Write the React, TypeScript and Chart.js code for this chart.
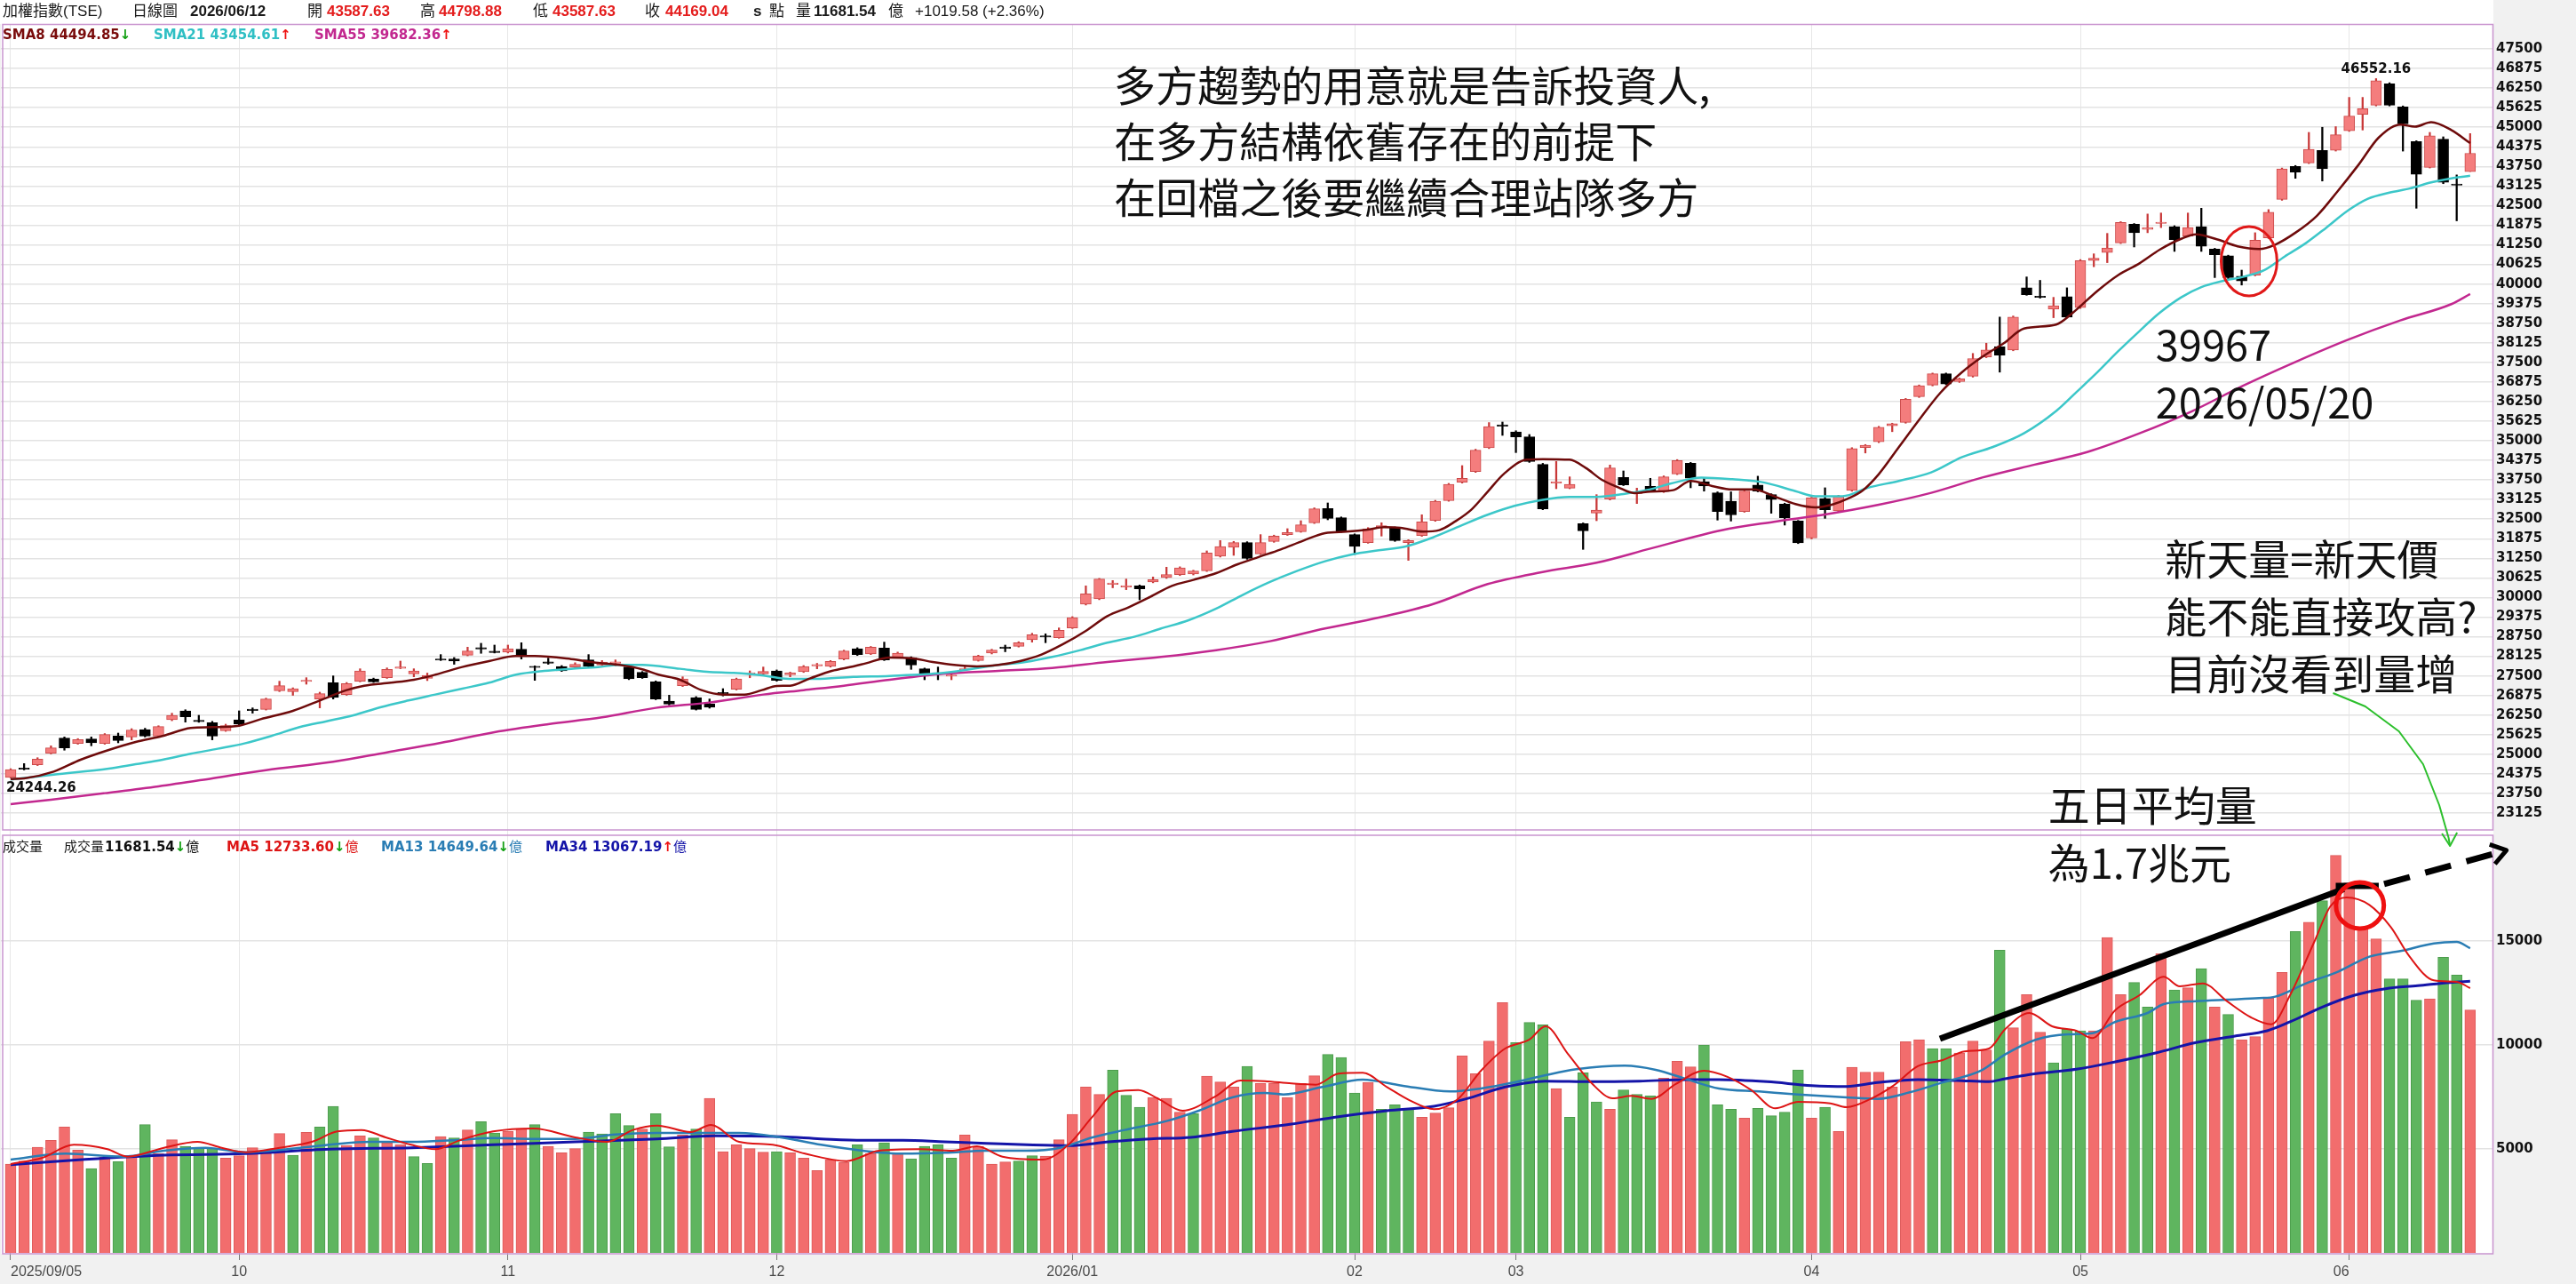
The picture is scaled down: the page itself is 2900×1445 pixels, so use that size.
import React, { useEffect, useRef } from 'react';
import { Chart, registerables } from 'chart.js';

Chart.register(...registerables);

// ---------------- data ----------------
const monthIdx = [0, 17, 37, 57, 79, 100, 112, 134, 154, 174];
const monthLabels = ['2025/09/05', '10', '11', '12', '2026/01', '02', '03', '04', '05', '06'];

const priceTicks = [23125, 23750, 24375, 25000, 25625, 26250, 26875, 27500, 28125, 28750, 29375, 30000, 30625, 31250, 31875, 32500, 33125, 33750, 34375, 35000, 35625, 36250, 36875, 37500, 38125, 38750, 39375, 40000, 40625, 41250, 41875, 42500, 43125, 43750, 44375, 45000, 45625, 46250, 46875, 47500];
const volTicks = [5000, 10000, 15000];

const opens = [
  24260, 24560, 24665, 25034, 25516, 25346, 25487, 25346, 25582, 25554,
  25790, 25582, 26101, 26385, 26060, 26007, 25752, 26101, 26420, 26432,
  27027, 26999, 27320, 26763, 27282, 26904, 27330, 27405, 27443, 27740,
  27566, 27424, 28020, 28038, 28161, 28380, 28265, 28256, 28350, 27790,
  27925, 27802, 27783, 28010, 27849, 27905, 27783, 27613, 27310, 26697,
  27188, 26810, 26602, 26950, 27074, 27555, 27566, 27660, 27537, 27632,
  27820, 27802, 28038, 28369, 28199, 28388, 28105, 28086, 27726, 27575,
  27490, 27689, 27991, 28227, 28398, 28445, 28652, 28757, 28719, 29031,
  29786, 29956, 30420, 30334, 30373, 30495, 30637, 30731, 30750, 30854,
  31317, 31600, 31752, 31392, 31789, 32007, 32101, 32384, 32838, 32545,
  32007, 31752, 32224, 32224, 31752, 31978, 32460, 33093, 33679, 34019,
  34775, 35484, 35285, 35125, 34246, 33650, 33490, 32356, 32696, 33140,
  33830, 33320, 33547, 33377, 33943, 34283, 33697, 33339, 33068, 32742,
  33589, 33285, 32981, 32438, 31897, 33155, 32764, 33415, 34782, 34966,
  35476, 35585, 36409, 36777, 37135, 36886, 37059, 37677, 38003, 37894,
  39879, 39590, 39196, 39597, 39250, 40747, 41007, 41311, 41907, 41745,
  41930, 41831, 41528, 41831, 41116, 40899, 40248, 40280, 41474, 42699,
  43751, 43860, 44261, 44261, 44890, 45411, 45704, 46387, 45649, 44543,
  43719, 44619, 43177, 43587.63,
];
const highs = [
  24540, 24703, 24890, 25270, 25553, 25500, 25553, 25660, 25676, 25817,
  25830, 25910, 26310, 26420, 26243, 26050, 25960, 26385, 26480, 26790,
  27330, 27120, 27443, 26980, 27500, 27290, 27727, 27430, 27755, 27972,
  27727, 27590, 28180, 28086, 28416, 28540, 28483, 28483, 28558, 27820,
  28067, 27830, 27920, 28180, 27990, 28010, 27820, 27640, 27340, 26886,
  27471, 26840, 26763, 27093, 27430, 27660, 27783, 27690, 27620, 27830,
  27900, 27990, 28320, 28400, 28440, 28577, 28260, 28110, 27750, 27783,
  27594, 27802, 28160, 28350, 28482, 28590, 28860, 28842, 29031, 29390,
  30372, 30610, 30542, 30589, 30400, 30655, 30967, 30980, 30870, 31487,
  31817, 31790, 31780, 32007, 31990, 32196, 32450, 32860, 33017, 32570,
  32030, 32230, 32385, 32250, 31845, 32640, 33100, 33640, 34208, 34730,
  35580, 35597, 35320, 35200, 34280, 34340, 33849, 32380, 33282, 34227,
  34038, 33490, 33802, 33880, 34400, 34310, 33827, 33370, 33372, 33420,
  33870, 33310, 33010, 32460, 33200, 33500, 33260, 34780, 34880, 35460,
  35560, 36350, 36780, 37160, 37160, 37000, 37786, 38111, 38946, 38980,
  40226, 40117, 39575, 39879, 40780, 40963, 41615, 41990, 41930, 42233,
  42265, 41860, 42265, 42417, 41140, 40920, 40443, 41636, 42374, 43700,
  43780, 44836, 44999, 45020, 45953, 45953, 46552.16, 46420, 45680, 44570,
  44836, 44695, 43480, 44798.88,
];
const lows = [
  24244.26, 24500, 24640, 25010, 25130, 25320, 25270, 25320, 25365, 25460,
  25550, 25560, 26070, 26025, 26020, 25460, 25730, 25940, 26310, 26410,
  26999, 26880, 27235, 26480, 26763, 26880, 27310, 27290, 27420, 27730,
  27470, 27350, 27990, 27870, 28140, 28220, 28230, 28230, 28038, 27358,
  27870, 27640, 27760, 27780, 27830, 27820, 27380, 27420, 26740, 26570,
  27160, 26410, 26470, 26860, 27050, 27440, 27540, 27330, 27471, 27610,
  27727, 27780, 28010, 28150, 28180, 27990, 28080, 27708, 27377, 27377,
  27377, 27670, 27970, 28200, 28270, 28420, 28577, 28558, 28700, 29010,
  29760, 29930, 30310, 30250, 29928, 30470, 30610, 30700, 30720, 30830,
  31290, 31345, 31220, 31370, 31760, 31980, 32080, 32360, 32479, 32080,
  31374, 31730, 31960, 31790, 31185, 31950, 32430, 33070, 33650, 33990,
  34750, 35172, 34623, 34310, 32800, 33471, 33470, 31535, 32450, 33110,
  33570, 32998, 33370, 33350, 33920, 33500, 33393, 32470, 32439, 32720,
  33370, 32688, 32310, 31720, 31870, 32525, 32740, 33390, 34610, 34940,
  35290, 35560, 36380, 36750, 36790, 36860, 37030, 37650, 37189, 37870,
  39640, 39550, 38925, 38920, 39220, 40551, 40682, 41290, 41181, 41636,
  41799, 41040, 41500, 41040, 40205, 40172, 39967, 40260, 41450, 42670,
  43372, 43840, 43285, 44240, 44868, 44912, 45680, 45680, 44239, 42417,
  43700, 43200, 42016, 43587.63,
];
const closes = [
  24514, 24520, 24846, 25204, 25204, 25468, 25365, 25629, 25440, 25770,
  25582, 25884, 26243, 26196, 26040, 25582, 25912, 25960, 26395, 26763,
  27188, 27093, 27345, 26933, 26810, 27254, 27660, 27310, 27707, 27765,
  27660, 27519, 28000, 27972, 28293, 28360, 28245, 28369, 28133, 27765,
  27905, 27660, 27868, 27802, 27943, 27925, 27405, 27443, 26763, 26602,
  27405, 26432, 26498, 26925, 27405, 27575, 27641, 27358, 27594, 27802,
  27840, 27962, 28293, 28180, 28416, 28010, 28227, 27849, 27566, 27555,
  27510, 27726, 28133, 28322, 28378, 28558, 28813, 28737, 28955, 29361,
  30117, 30589, 30440, 30373, 30278, 30570, 30731, 30948, 30844, 31421,
  31629, 31752, 31251, 31752, 31959, 32073, 32318, 32828, 32526, 32101,
  31629, 32196, 32290, 31818, 31818, 32413, 33074, 33613, 33802, 34699,
  35455, 35464, 35125, 34340, 32829, 33670, 33613, 32129, 32791, 34132,
  33594, 33340, 33396, 33849, 34368, 33805, 33556, 32742, 32634, 33394,
  33394, 33122, 32547, 31744, 33177, 32797, 33231, 34749, 34857, 35433,
  35541, 36322, 36756, 37135, 36810, 36973, 37623, 37894, 37732, 38946,
  39662, 39570, 39304, 38946, 40747, 40823, 41148, 41961, 41636, 41799,
  41950, 41419, 41799, 41202, 40931, 40205, 40096, 41398, 42287, 43675,
  43567, 44294, 43675, 44760, 45356, 45595, 46484, 45704, 45107, 43502,
  44727, 43242, 43149.46, 44169.04,
];

const volumes = [
  4274, 4416, 5086, 5413, 6054, 4943, 4060, 4600, 4388, 4630,
  6168, 4773, 5442, 5128, 5057, 5029, 4559, 4673, 5057, 4773,
  5741, 4701, 5798, 6054, 7051, 5171, 5627, 5527, 5299, 5200,
  4630, 4303, 5599, 5527, 5912, 6311, 5769, 5840, 5983, 6168,
  5128, 4815, 5015, 5812, 5727, 6696, 6126, 5955, 6696, 5100,
  5670, 5955, 7436, 4872, 5200, 5015, 4844, 4872, 4815, 4559,
  3960, 4488, 4345, 5200, 4773, 5299, 4815, 4530, 5128, 5200,
  4559, 5670, 5128, 4274, 4374, 4416, 4673, 4658, 5442, 6667,
  7978, 7621, 8789, 7579, 7009, 7479, 7436, 6767, 6696, 8504,
  8220, 7978, 8975, 8148, 8148, 7479, 8148, 8519, 9545, 9402,
  7692, 8191, 6909, 7123, 6952, 6524, 6724, 6980, 9473, 8618,
  10185, 12037, 10114, 11083, 10969, 7906, 6524, 8661, 7265, 6909,
  7835, 7621, 7550, 8405, 9217, 8946, 10000, 7123, 6909, 6482,
  6952, 6596, 6767, 8804, 6482, 7009, 5840, 8932, 8690, 8690,
  7977, 10157, 10257, 9829, 9829, 9615, 10185, 9758, 14559, 10826,
  12422, 10613, 9146, 10755, 10684, 10684, 15171, 12422, 13006, 11824,
  14388, 12650, 12750, 13675, 11824, 11467, 10257, 10399, 12251, 13490,
  15456, 15900, 16941, 19117, 17800, 15600, 15100, 13177, 13177, 12151,
  12222, 14217, 13362, 11681.54,
];
// 1 = red (up) volume bar, 0 = green (down)
const volUp = [
  1, 1, 1, 1, 1, 1, 0, 1, 0, 1,
  0, 1, 1, 0, 0, 0, 1, 1, 1, 1,
  1, 0, 1, 0, 0, 1, 1, 0, 1, 1,
  0, 0, 1, 0, 1, 0, 0, 1, 1, 0,
  1, 1, 1, 0, 0, 0, 0, 1, 0, 0,
  1, 0, 1, 1, 1, 1, 1, 0, 1, 1,
  1, 1, 1, 0, 1, 0, 1, 0, 0, 0,
  0, 1, 1, 1, 1, 0, 0, 1, 1, 1,
  1, 1, 0, 0, 0, 1, 1, 1, 0, 1,
  1, 1, 0, 1, 1, 1, 1, 1, 0, 0,
  0, 1, 0, 0, 0, 1, 1, 1, 1, 1,
  1, 1, 0, 0, 0, 1, 0, 0, 0, 1,
  0, 0, 0, 1, 1, 1, 0, 0, 0, 1,
  0, 0, 0, 0, 1, 0, 1, 1, 1, 1,
  1, 1, 1, 0, 0, 1, 1, 1, 0, 1,
  1, 1, 0, 0, 0, 1, 1, 1, 0, 0,
  1, 0, 1, 0, 1, 0, 1, 1, 1, 1,
  0, 1, 0, 1, 1, 1, 1, 0, 0, 0,
  1, 0, 0, 1,
];

// moving-average lines: [candle index, value]
const sma8Pts = [
  [0, 24212], [1, 24231], [3.2, 24448], [5.2, 24826], [7.3, 25138], [9.3, 25393], [11.3, 25582], [13.4, 25837], [15, 25865], [17, 25912],
  [18.6, 26120], [21, 26385], [23, 26716], [25, 27046], [26.3, 27188], [28.3, 27282], [30, 27377], [31.6, 27538], [33.6, 27783], [35.6, 27972],
  [37.6, 28133], [39, 28133], [41.7, 28038], [43.7, 27915], [45.3, 27849], [47, 27708], [48.2, 27538], [49.8, 27377], [51.4, 27046], [53, 26905],
  [54.6, 26905], [55.9, 27046], [57, 27179], [58, 27188], [59.5, 27424], [61.1, 27660], [62.7, 27802], [63.6, 27897], [65.4, 28086], [67, 28067],
  [68.6, 27944], [70.2, 27850], [71.9, 27802], [73.5, 27850], [75.1, 27972], [76.7, 28180], [78.3, 28511], [80, 28936], [81.6, 29408], [83.2, 29692],
  [84.8, 30023], [86.4, 30372], [88, 30561], [89.7, 30778], [91.3, 31062], [92.9, 31298], [94.5, 31534], [96.2, 31817], [97.8, 32054], [99.4, 32101],
  [101, 32167], [102.2, 32243], [103.4, 32224], [105.1, 32101], [106.3, 32148], [107.5, 32432], [108.7, 32810], [109.9, 33377], [111.1, 33943], [112.8, 34397],
  [114, 34416], [116, 34397], [117.2, 34132], [118.4, 33754], [119.6, 33518], [120.8, 33329], [122, 33377], [123.7, 33424], [125, 33719], [126.6, 33556],
  [128.1, 33448], [129.7, 33448], [131.2, 33231], [132.8, 32981], [134.3, 32873], [135.5, 32960], [136.7, 33155], [137.8, 33415], [139, 33936], [140.5, 34803],
  [142.1, 35725], [143.6, 36539], [145.2, 37189], [146.7, 37677], [148.3, 38111], [149.8, 38577], [152.2, 38708], [153.3, 39033], [155.3, 39792], [156.8, 40281],
  [158.4, 40660], [159.9, 41094], [161.5, 41441], [162.6, 41582], [164.2, 41419], [165.7, 41202], [167.3, 41116], [168.5, 41257], [170, 41636], [171.6, 42178],
  [173.1, 42938], [174.7, 43805], [176.2, 44673], [177.8, 45085], [178.9, 45020], [180.1, 45161], [181.6, 44912], [183, 44495],
];
const sma21Pts = [
  [0, 24193], [3.2, 24354], [7.3, 24543], [9.3, 24684], [11.3, 24826], [13.4, 25015], [15.4, 25176], [17.4, 25346], [19.4, 25582], [21.5, 25865],
  [23.5, 26054], [25.5, 26243], [27.5, 26498], [29.6, 26716], [31.6, 26905], [33.6, 27093], [35.6, 27282], [37.6, 27538], [39.7, 27660], [41.7, 27727],
  [43.7, 27783], [45.3, 27849], [47, 27849], [49.8, 27727], [51.8, 27632], [53.8, 27594], [55.9, 27519], [57.9, 27405], [59.9, 27405], [62.7, 27471],
  [65.4, 27500], [69.4, 27594], [73.5, 27850], [75.5, 27944], [77.5, 28105], [79.6, 28322], [81.6, 28558], [83.6, 28747], [85.6, 29012], [87.6, 29267],
  [89.7, 29645], [91.7, 30089], [93.7, 30495], [95.7, 30844], [97.8, 31156], [99.8, 31373], [101.8, 31506], [103.8, 31629], [105.8, 31912], [107.9, 32290],
  [109.9, 32640], [111.9, 32923], [113.9, 33112], [116, 33207], [118, 33207], [120, 33301], [122, 33452], [123.5, 33632], [125.8, 33827], [128.1, 33773],
  [130.5, 33665], [132.8, 33394], [134.3, 33231], [136.3, 33231], [138.2, 33502], [140.5, 33719], [142.9, 33990], [145.2, 34478], [147.5, 34803], [149.8, 35237],
  [152.2, 35950], [153.7, 36550], [155.3, 37200], [156.8, 37850], [158.4, 38500], [159.9, 39080], [161.5, 39575], [163, 39901], [164.6, 40096], [166.1, 40226],
  [167.7, 40443], [169.2, 40877], [170.8, 41311], [172.3, 41799], [173.9, 42341], [175.4, 42721], [177, 42916], [178.5, 43046], [180.1, 43241], [181.6, 43372],
  [183, 43455],
];
const sma55Pts = [
  [0, 23409], [3, 23551], [7, 23759], [11, 23976], [15, 24231], [19, 24495], [24, 24760], [28, 25062], [32, 25365], [36, 25705],
  [40, 25960], [44, 26177], [48, 26480], [52, 26650], [56, 26905], [59, 27046], [62, 27188], [65.4, 27377], [69.4, 27566], [73.5, 27661],
  [77.5, 27755], [81.6, 27944], [85.6, 28105], [89.7, 28322], [93.7, 28606], [97.8, 29012], [101.8, 29361], [105.8, 29786], [109.9, 30429], [113.9, 30807],
  [118, 31109], [122, 31560], [127.3, 32146], [131.2, 32417], [135.1, 32656], [139, 32959], [142.9, 33339], [146.7, 33827], [150.6, 34239], [154.5, 34640],
  [158.4, 35237], [162.3, 35942], [166.1, 36755], [170, 37515], [173.9, 38222], [177.8, 38838], [181.6, 39359], [183, 39682],
];
const volMa5Pts = [
  [0, 4274], [2.3, 4559], [4.7, 5200], [7.2, 4986], [8.7, 4630], [11.4, 5057], [13.9, 5342], [15.7, 5057], [17.5, 4844], [20, 5057],
  [22.4, 5342], [24.3, 5841], [26.1, 5912], [27.9, 5556], [29.8, 5200], [31.6, 4986], [33.4, 5413], [35.9, 5841], [38.9, 5983], [42, 5556],
  [44.4, 5342], [46.3, 5912], [48.1, 6126], [50.6, 5812], [52.1, 6154], [54.2, 5342], [56.7, 5200], [59.1, 4773], [62.2, 4416], [64.6, 4915],
  [67.7, 4986], [70.1, 4915], [71.9, 5128], [73.8, 4630], [76.8, 4488], [78.7, 5200], [80.5, 6553], [82.3, 7764], [83.9, 7835], [85.4, 7408],
  [87.2, 6838], [89.7, 7550], [91.5, 8291], [93.3, 8262], [95.3, 8148], [97.1, 8091], [98.8, 8618], [100.6, 8661], [102.4, 7977], [104.1, 7336],
  [105.9, 6909], [107.7, 7408], [109.4, 8761], [111.2, 9829], [113, 10257], [114.2, 10898], [115.9, 9544], [117.7, 8120], [119.2, 7436], [120.6, 7550],
  [122.1, 7408], [123.9, 8120], [126, 8761], [127.7, 8476], [129.5, 7835], [131.3, 6952], [133, 7265], [135.4, 7194], [136.6, 7009], [138.4, 7408],
  [140.1, 8049], [141.9, 8975], [143.7, 9260], [145.4, 9687], [147.2, 9829], [148.4, 10755], [150.2, 11539], [151.9, 10898], [153.7, 10684], [154.9, 10328],
  [156.6, 11681], [158.4, 12393], [160.2, 13277], [161.4, 12821], [163.1, 12963], [164.9, 12108], [166.7, 11325], [168.2, 10997], [169.6, 12393], [171.4, 14958],
  [172.6, 16667], [173.8, 17094], [175.5, 16738], [177.1, 15670], [178.5, 14245], [180.3, 13106], [182, 13035], [183, 12734],
];
const volMa13Pts = [
  [0, 4488], [4.1, 4773], [8.4, 4630], [11.4, 4915], [14.5, 5057], [17.5, 4844], [20.6, 4986], [23.7, 5200], [26.7, 5342], [29.8, 5342],
  [32.8, 5413], [35.9, 5527], [38.9, 5485], [42, 5485], [45, 5698], [48.1, 5769], [51.2, 5769], [54.2, 5769], [57.3, 5556], [60.3, 5200],
  [63.4, 4915], [66.4, 4773], [69.5, 4815], [72.6, 4915], [75.6, 4915], [78.1, 5057], [80.5, 5556], [82.9, 5912], [86, 6339], [88.4, 6838],
  [90.9, 7479], [93.3, 7692], [94.7, 7621], [97.6, 7977], [100.6, 8334], [103.5, 8049], [107.1, 7764], [109.4, 7906], [111.8, 8191], [114.2, 8547],
  [116.5, 8832], [120.1, 9003], [122.4, 8804], [124.8, 8334], [127.1, 7906], [130.1, 7764], [133, 7621], [136.6, 7479], [138.9, 7408], [141.3, 7721],
  [143.7, 8191], [146.6, 8761], [148.4, 9544], [150.7, 10257], [153.1, 10513], [154.9, 10570], [156.6, 11111], [159, 11539], [160.2, 11966], [162.6, 12108],
  [164.9, 12180], [167.3, 12251], [168.5, 12322], [170.8, 12963], [173.2, 13533], [175.5, 14245], [177.9, 14530], [180.3, 14886], [182, 14958], [183, 14650],
];
const volMa34Pts = [
  [0, 4245], [5.3, 4488], [11.4, 4701], [17.5, 4773], [23.7, 4986], [29.8, 5057], [35.9, 5200], [42, 5342], [48.1, 5485], [52.4, 5627],
  [57.3, 5584], [60.3, 5485], [63.4, 5413], [66.4, 5413], [69.5, 5342], [72.6, 5271], [75.6, 5200], [78.7, 5157], [81.7, 5342], [84.8, 5485],
  [87.8, 5556], [90.9, 5841], [95.3, 6197], [98.8, 6553], [102.4, 6838], [105.9, 7051], [108.3, 7408], [111.2, 7977], [114.2, 8262], [117.7, 8234],
  [121.2, 8262], [124.8, 8334], [127.1, 8334], [130.7, 8234], [134, 8049], [136.6, 8006], [138.9, 8191], [141.9, 8334], [144.8, 8291], [147.2, 8234],
  [148.4, 8376], [150.7, 8618], [153.7, 8832], [156.6, 9188], [159.6, 9615], [162.6, 10114], [165.5, 10428], [167.9, 10684], [169.6, 11111], [172, 11824],
  [174.4, 12393], [176.7, 12707], [179.1, 12849], [181.5, 13006], [183, 13067],
];

// annotations, anchored in data space (candle index, price / volume value)
const noteTexts = [
  { ix: 82.1, pv: 46340, text: '多方趨勢的用意就是告訴投資人,' },
  { ix: 82.1, pv: 44554, text: '在多方結構依舊存在的前提下' },
  { ix: 82.1, pv: 42768, text: '在回檔之後要繼續合理站隊多方' },
  { ix: 159.6, pv: 38063, text: '39967' },
  { ix: 159.6, pv: 36220, text: '2026/05/20' },
  { ix: 160.3, pv: 31232, text: '新天量=新天價' },
  { ix: 160.3, pv: 29389, text: '能不能直接攻高?' },
  { ix: 160.3, pv: 27575, text: '目前沒看到量增' },
  { ix: 151.6, pv: 23380, text: '五日平均量' },
  { ix: 151.6, pv: 21538, text: '為1.7兆元' },
];
const priceCircle = { ix: 166.55, pv: 40727, rIx: 2.08, rPv: 1105 };
const volCircle = { ix: 174.8, vv: 16709, rIx: 1.78, rVv: 1111 };
const trendSolid = [[143.55, 10300], [173.6, 17500]];
const trendFlat = [[173.0, 17650], [176.2, 17650]];
const trendDash = [[176.6, 17735], [185.7, 19359]];
const greenArrow = [[172.8, 26952], [175.2, 26526], [177.7, 25733], [179.5, 24684], [180.7, 23380], [181.4, 22331], [181.5, 22076]];

// ---------------- styling ----------------
const W = 2900;
const H = 1445;
const RED_BODY = '#f47d7d';
const RED_EDGE = '#cc4a4a';
const RED_WICK = '#c83838';
const VOL_RED = '#f26d6d';
const VOL_RED_EDGE = '#de5a5a';
const VOL_GREEN = '#5fb55f';
const VOL_GREEN_EDGE = '#4c9c4c';
const PANEL_BORDER = '#c995cf';
const CJK = "'Noto Sans CJK TC', 'Noto Sans CJK SC', sans-serif";
const AXIS_FONT = "'DejaVu Sans', sans-serif";

const toXY = (p: number[][]) => p.map(([x, y]) => ({ x, y }));

const drawPlugin = {
  id: 'twPanels',
  beforeDraw(chart: any) {
    const { ctx, chartArea } = chart;
    const py = chart.scales.y;
    const vy = chart.scales.yv;
    ctx.save();
    ctx.fillStyle = '#ffffff';
    ctx.fillRect(0, 0, chartArea.right, py.top);
    ctx.fillRect(chartArea.left, py.top, chartArea.right - chartArea.left, vy.bottom - py.top + 1);
    ctx.restore();
  },
  afterDraw(chart: any) {
    const { ctx, chartArea: ca } = chart;
    const xs = chart.scales.x;
    const py = chart.scales.y;
    const vy = chart.scales.yv;
    const X = (v: number) => xs.getPixelForValue(v);
    const PY = (v: number) => py.getPixelForValue(v);
    const VY = (v: number) => vy.getPixelForValue(v);
    ctx.save();

    // panel borders
    ctx.strokeStyle = PANEL_BORDER;
    ctx.lineWidth = 1.5;
    ctx.strokeRect(ca.left + 2, py.top + 0.5, ca.right - ca.left - 2.5, py.bottom - py.top - 4.5);
    ctx.strokeRect(ca.left + 2, vy.top + 2, ca.right - ca.left - 2.5, vy.bottom - vy.top - 1);

    // low / high labels
    let lo = 0;
    let hi = 0;
    lows.forEach((v, i) => { if (v < lows[lo]) lo = i; });
    highs.forEach((v, i) => { if (v > highs[hi]) hi = i; });
    ctx.fillStyle = '#111';
    ctx.font = `bold 15px ${AXIS_FONT}`;
    ctx.textAlign = 'left';
    ctx.textBaseline = 'top';
    ctx.fillText(lows[lo].toFixed(2), X(lo) - 5, PY(lows[lo]) + 4);
    ctx.textAlign = 'center';
    ctx.textBaseline = 'bottom';
    ctx.fillText(highs[hi].toFixed(2), X(hi), PY(highs[hi]) - 3);

    // large notes
    ctx.font = `47px ${CJK}`;
    ctx.textAlign = 'left';
    ctx.textBaseline = 'middle';
    ctx.fillStyle = '#111';
    noteTexts.forEach((n) => ctx.fillText(n.text, X(n.ix), PY(n.pv)));

    // red circle on price panel
    ctx.strokeStyle = '#e01818';
    ctx.lineWidth = 3;
    ctx.beginPath();
    ctx.ellipse(X(priceCircle.ix), PY(priceCircle.pv),
      Math.abs(X(priceCircle.ix + priceCircle.rIx) - X(priceCircle.ix)),
      Math.abs(PY(priceCircle.pv + priceCircle.rPv) - PY(priceCircle.pv)), 0, 0, Math.PI * 2);
    ctx.stroke();

    // green arrow
    ctx.strokeStyle = '#2cbf2c';
    ctx.lineWidth = 2;
    ctx.lineJoin = 'round';
    ctx.beginPath();
    greenArrow.forEach(([a, b], i) => {
      if (i === 0) ctx.moveTo(X(a), PY(b)); else ctx.lineTo(X(a), PY(b));
    });
    ctx.stroke();
    const tip = greenArrow[greenArrow.length - 1];
    const tx = X(tip[0]);
    const ty = PY(tip[1]);
    ctx.beginPath();
    ctx.moveTo(tx - 9, ty - 14);
    ctx.lineTo(tx, ty);
    ctx.lineTo(tx + 8, ty - 15);
    ctx.stroke();

    // black trend line on volume panel
    ctx.strokeStyle = '#000';
    ctx.lineWidth = 7;
    ctx.lineCap = 'butt';
    ctx.beginPath();
    ctx.moveTo(X(trendSolid[0][0]), VY(trendSolid[0][1]));
    ctx.lineTo(X(trendSolid[1][0]), VY(trendSolid[1][1]));
    ctx.stroke();
    ctx.beginPath();
    ctx.moveTo(X(trendFlat[0][0]), VY(trendFlat[0][1]));
    ctx.lineTo(X(trendFlat[1][0]), VY(trendFlat[1][1]));
    ctx.stroke();
    const d0x = X(trendDash[0][0]);
    const d0y = VY(trendDash[0][1]);
    const d1x = X(trendDash[1][0]);
    const d1y = VY(trendDash[1][1]);
    ctx.setLineDash([30, 18]);
    ctx.beginPath();
    ctx.moveTo(d0x, d0y);
    ctx.lineTo(d1x, d1y);
    ctx.stroke();
    ctx.setLineDash([]);
    const ang = Math.atan2(d1y - d0y, d1x - d0x);
    ctx.lineWidth = 5;
    ctx.beginPath();
    ctx.moveTo(d1x - 20 * Math.cos(ang - 0.6), d1y - 20 * Math.sin(ang - 0.6));
    ctx.lineTo(d1x, d1y);
    ctx.lineTo(d1x - 20 * Math.cos(ang + 0.6), d1y - 20 * Math.sin(ang + 0.6));
    ctx.stroke();

    // red circle on volume panel
    ctx.strokeStyle = '#ee1010';
    ctx.lineWidth = 5;
    ctx.beginPath();
    ctx.ellipse(X(volCircle.ix), VY(volCircle.vv),
      Math.abs(X(volCircle.ix + volCircle.rIx) - X(volCircle.ix)),
      Math.abs(VY(volCircle.vv + volCircle.rVv) - VY(volCircle.vv)), 0, 0, Math.PI * 2);
    ctx.stroke();

    ctx.restore();
  },
};

type Seg = { x: number; t: string; b?: boolean; c?: string };

const RED_TXT = '#e41c1c';
const headerSegs: Seg[] = [
  { x: 3, t: '加權指數(TSE)' },
  { x: 149, t: '日線圖' },
  { x: 214, t: '2026/06/12', b: true },
  { x: 346, t: '開' },
  { x: 368, t: '43587.63', b: true, c: RED_TXT },
  { x: 473, t: '高' },
  { x: 494, t: '44798.88', b: true, c: RED_TXT },
  { x: 600, t: '低' },
  { x: 622, t: '43587.63', b: true, c: RED_TXT },
  { x: 726, t: '收' },
  { x: 749, t: '44169.04', b: true, c: RED_TXT },
  { x: 848, t: 's', b: true },
  { x: 866, t: '點' },
  { x: 896, t: '量' },
  { x: 916, t: '11681.54', b: true },
  { x: 1000, t: '億' },
  { x: 1030, t: '+1019.58 (+2.36%)' },
];

const UP = '↑';
const DOWN = '↓';
const UPC = '#ee1111';
const DOWNC = '#13a013';

type Leg = { x: number; label: string; arrow: string; ac: string; c: string; unit?: string };
const priceLegend: Leg[] = [
  { x: 3, label: 'SMA8 44494.85', arrow: DOWN, ac: DOWNC, c: '#7a0c0c' },
  { x: 173, label: 'SMA21 43454.61', arrow: UP, ac: UPC, c: '#2fbfc4' },
  { x: 354, label: 'SMA55 39682.36', arrow: UP, ac: UPC, c: '#c2288f' },
];
const volLegend: Leg[] = [
  { x: 255, label: 'MA5 12733.60', arrow: DOWN, ac: DOWNC, c: '#dd1515', unit: '億' },
  { x: 429, label: 'MA13 14649.64', arrow: DOWN, ac: DOWNC, c: '#2a7db4', unit: '億' },
  { x: 614, label: 'MA34 13067.19', arrow: UP, ac: UPC, c: '#1414a8', unit: '億' },
];

const abs = (x: number, y: number): React.CSSProperties => ({ position: 'absolute', left: x, top: y, whiteSpace: 'nowrap' });

function LegendRow({ items, y }: { items: Leg[]; y: number }) {
  return (
    <>
      {items.map((it, i) => (
        <span key={i} style={{ ...abs(it.x, y), font: `bold 15px ${AXIS_FONT}`, color: it.c, lineHeight: '18px' }}>
          {it.label}
          <span style={{ color: it.ac }}>{it.arrow}</span>
          {it.unit ? <span style={{ fontWeight: 400, fontFamily: CJK, fontSize: 15 }}>{it.unit}</span> : null}
        </span>
      ))}
    </>
  );
}

export default function App() {
  const ref = useRef<HTMLCanvasElement | null>(null);

  useEffect(() => {
    if (!ref.current) return;
    const up = closes.map((c, i) => c >= opens[i]);
    const candleBodies = opens.map((o, i) => ({ x: i, y: [o, closes[i]] }));
    const candleWicks = lows.map((l, i) => ({ x: i, y: [l, highs[i]] }));
    const volData = volumes.map((v, i) => ({ x: i, y: v }));

    const chart = new Chart(ref.current, {
      type: 'line',
      data: {
        datasets: [
          {
            type: 'bar', label: 'vol', data: volData as any, yAxisID: 'yv', xAxisID: 'x',
            backgroundColor: volUp.map((u) => (u ? VOL_RED : VOL_GREEN)),
            borderColor: volUp.map((u) => (u ? VOL_RED_EDGE : VOL_GREEN_EDGE)),
            borderWidth: 1, borderSkipped: 'bottom', barThickness: 12, grouped: false, order: 20,
          } as any,
          {
            type: 'line', label: 'MA34', data: toXY(volMa34Pts) as any, yAxisID: 'yv',
            borderColor: '#1414a8', borderWidth: 3, pointRadius: 0, cubicInterpolationMode: 'monotone', order: 12,
          } as any,
          {
            type: 'line', label: 'MA13', data: toXY(volMa13Pts) as any, yAxisID: 'yv',
            borderColor: '#2a7db4', borderWidth: 2.5, pointRadius: 0, cubicInterpolationMode: 'monotone', order: 11,
          } as any,
          {
            type: 'line', label: 'MA5', data: toXY(volMa5Pts) as any, yAxisID: 'yv',
            borderColor: '#dd1515', borderWidth: 2, pointRadius: 0, cubicInterpolationMode: 'monotone', order: 10,
          } as any,
          {
            type: 'bar', label: 'wick', data: candleWicks as any, yAxisID: 'y',
            backgroundColor: up.map((u) => (u ? RED_WICK : '#000')),
            borderWidth: 0, barThickness: 1.6, grouped: false, order: 5,
          } as any,
          {
            type: 'bar', label: 'body', data: candleBodies as any, yAxisID: 'y',
            backgroundColor: up.map((u) => (u ? RED_BODY : '#000')),
            borderColor: up.map((u) => (u ? RED_EDGE : '#000')),
            borderWidth: 1, borderSkipped: false, barThickness: 12, minBarLength: 1.5, grouped: false, order: 4,
          } as any,
          {
            type: 'line', label: 'SMA55', data: toXY(sma55Pts) as any, yAxisID: 'y',
            borderColor: '#c2288f', borderWidth: 2.5, pointRadius: 0, cubicInterpolationMode: 'monotone', order: 3,
          } as any,
          {
            type: 'line', label: 'SMA21', data: toXY(sma21Pts) as any, yAxisID: 'y',
            borderColor: '#3cc7c9', borderWidth: 2.5, pointRadius: 0, cubicInterpolationMode: 'monotone', order: 2,
          } as any,
          {
            type: 'line', label: 'SMA8', data: toXY(sma8Pts) as any, yAxisID: 'y',
            borderColor: '#6e0b0b', borderWidth: 2.5, pointRadius: 0, cubicInterpolationMode: 'monotone', order: 1,
          } as any,
        ],
      },
      options: {
        animation: false,
        responsive: false,
        devicePixelRatio: 1,
        events: [],
        layout: { padding: { top: 27, left: 1, right: 0, bottom: 0 } },
        plugins: { legend: { display: false }, tooltip: { enabled: false } },
        scales: {
          x: {
            type: 'linear', min: -0.727, max: 184.73, offset: false,
            afterBuildTicks: (s: any) => { s.ticks = monthIdx.map((v) => ({ value: v })); },
            afterFit: (s: any) => { s.height = 35; },
            ticks: {
              autoSkip: false, maxRotation: 0, minRotation: 0, align: 'inner', padding: 4,
              color: '#4a4a4a', font: { family: "'Liberation Sans', sans-serif", size: 16 },
              callback: (v: any) => { const k = monthIdx.indexOf(Number(v)); return k >= 0 ? monthLabels[k] : ''; },
            },
            grid: { color: '#e7e7e7', lineWidth: 1, drawTicks: true, tickLength: 8, tickColor: '#777', offset: false },
            border: { display: false },
          } as any,
          y: {
            type: 'linear', position: 'right', stack: 'panels', stackWeight: 911,
            min: 22473, max: 48294,
            afterBuildTicks: (s: any) => { s.ticks = priceTicks.map((v) => ({ value: v })); },
            afterFit: (s: any) => { s.width = 93; },
            ticks: { autoSkip: false, padding: 3, color: '#111', font: { family: AXIS_FONT, size: 15, weight: 'bold' }, callback: (v: any) => String(v) },
            grid: { color: '#e3e3e3', lineWidth: 1.5, drawTicks: false },
            border: { display: false },
          } as any,
          yv: {
            type: 'linear', position: 'right', stack: 'panels', stackWeight: 472,
            min: 0, max: 20170,
            afterBuildTicks: (s: any) => { s.ticks = volTicks.map((v) => ({ value: v })); },
            afterFit: (s: any) => { s.width = 93; },
            ticks: { autoSkip: false, padding: 3, color: '#111', font: { family: AXIS_FONT, size: 15, weight: 'bold' }, callback: (v: any) => String(v) },
            grid: { color: '#e3e3e3', lineWidth: 1.5, drawTicks: false },
            border: { display: false },
          } as any,
        },
      } as any,
      plugins: [drawPlugin as any],
    });
    return () => chart.destroy();
  }, []);

  return (
    <div style={{ position: 'fixed', left: 0, top: 0, width: W, height: H, background: '#f1f1f1', overflow: 'hidden' }}>
      <canvas ref={ref} width={W} height={H} style={{ position: 'absolute', left: 0, top: 0, width: W, height: H }} />
      {headerSegs.map((s, i) => (
        <span key={i} style={{
          ...abs(s.x, 3), fontSize: 17, lineHeight: '20px', fontWeight: s.b ? 700 : 400, color: s.c || '#1a1a1a',
          fontFamily: s.b ? "'Liberation Sans', sans-serif" : `'Liberation Sans', ${CJK}`,
        }}>{s.t}</span>
      ))}
      <LegendRow items={priceLegend} y={30} />
      <span style={{ ...abs(3, 943), fontSize: 15, lineHeight: '18px', fontFamily: CJK, color: '#1a1a1a' }}>成交量</span>
      <span style={{ ...abs(72, 943), fontSize: 15, lineHeight: '18px', fontFamily: CJK, color: '#1a1a1a' }}>成交量</span>
      <span style={{ ...abs(118, 943), font: `bold 15px ${AXIS_FONT}`, lineHeight: '18px', color: '#111' }}>
        11681.54<span style={{ color: DOWNC }}>{DOWN}</span><span style={{ fontWeight: 400, fontFamily: CJK }}>億</span>
      </span>
      <LegendRow items={volLegend} y={943} />
    </div>
  );
}
